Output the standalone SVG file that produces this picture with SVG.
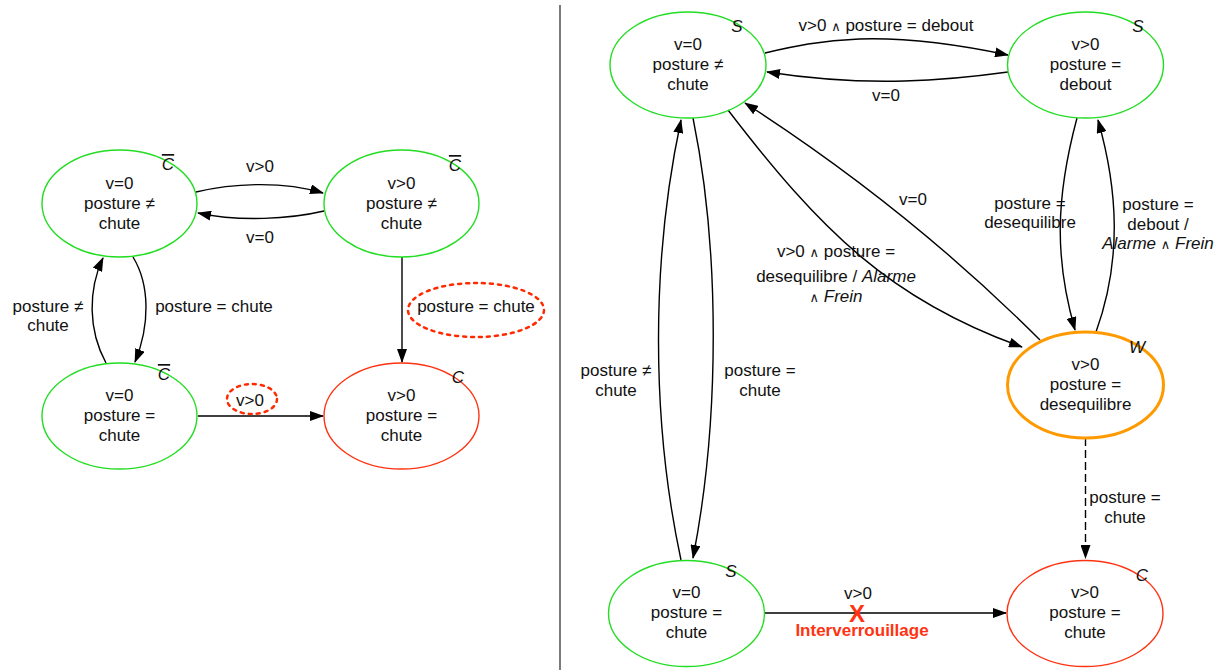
<svg xmlns="http://www.w3.org/2000/svg" width="1232" height="670" viewBox="0 0 1232 670">
<defs>
<marker id="arr" markerUnits="userSpaceOnUse" markerWidth="14" markerHeight="10" refX="13" refY="5" orient="auto" viewBox="0 0 14 10">
<path d="M0,0 L14,5 L0,10 z" fill="#000"/>
</marker>
</defs>
<style>
text { font-family: "Liberation Sans", Arial, sans-serif; font-size: 17px; fill: #111; text-anchor: middle; }
.i { font-style: italic; }
.ov { font-style: italic; text-decoration: overline; }
.nd { fill: none; stroke-width: 1.4; }
.g { stroke: #22dd22; }
.r { stroke: #ff3311; }
.o { stroke: #ff9900; stroke-width: 3; }
.e { fill: none; stroke: #000; stroke-width: 1.4; marker-end: url(#arr); }
.d { stroke-dasharray: 8 4; }
.hl { fill: none; stroke: #ff2a00; stroke-width: 2.5; stroke-dasharray: 3 5; stroke-linecap: round; }
.red { fill: #ff3311; font-weight: bold; }
.and { font-size: 13px; font-family: "DejaVu Sans", sans-serif; }
</style>

<line x1="560" y1="5" x2="560" y2="670" stroke="#222" stroke-width="1.2"/>

<g id="connectors">
  <!-- left -->
  <path class="e" d="M196,192 C230,184 280,180 323,193"/>
  <path class="e" d="M324,211 C290,219 240,222 198,213"/>
  <path class="e" d="M133,257 C150,285 150,325 135,362"/>
  <path class="e" d="M106,363 C88,330 88,290 103,258"/>
  <path class="e" d="M402,257 L402,362"/>
  <path class="e" d="M198,416 L323,416"/>
  <!-- right -->
  <path class="e" d="M765,53 C820,40 880,28 1008,55"/>
  <path class="e" d="M1008,72 C950,80 870,88 767,72"/>
  <path class="e" d="M693,118 C720,250 720,420 693,558"/>
  <path class="e" d="M681,560 C651,420 651,260 681,120"/>
  <path class="e" d="M728,110 C820,230 890,300 1022,347"/>
  <path class="e" d="M1040,340 C980,280 880,190 745,103"/>
  <path class="e" d="M1077,118 C1055,200 1055,260 1075,330"/>
  <path class="e" d="M1096,332 C1122,260 1118,190 1098,120"/>
  <path class="e d" d="M1085.5,438 L1085.5,558"/>
  <path class="e" d="M764.5,613 L1006,613"/>

  <!-- left labels -->
  <text x="260" y="172">v&gt;0</text>
  <text x="260" y="243">v=0</text>
  <text x="214" y="312">posture = chute</text>
  <text x="48" y="312">posture ≠</text>
  <text x="48" y="331">chute</text>
  <ellipse class="hl" cx="476" cy="310" rx="68" ry="27"/>
  <text x="476" y="312">posture = chute</text>
  <ellipse class="hl" cx="252" cy="399" rx="25" ry="15"/>
  <text x="250" y="406">v&gt;0</text>

  <!-- right labels -->
  <text x="886" y="31">v&gt;0 <tspan class="and">∧</tspan> posture = debout</text>
  <text x="886" y="101">v=0</text>
  <text x="616" y="376">posture ≠</text>
  <text x="616" y="396">chute</text>
  <text x="760" y="376">posture =</text>
  <text x="760" y="396">chute</text>
  <text x="836" y="257">v&gt;0 <tspan class="and">∧</tspan> posture =</text>
  <text x="836" y="282">desequilibre / <tspan class="i">Alarme</tspan></text>
  <text x="836" y="302"><tspan class="and">∧</tspan> <tspan class="i">Frein</tspan></text>
  <text x="913" y="205">v=0</text>
  <text x="1030" y="209">posture =</text>
  <text x="1030" y="228">desequilibre</text>
  <text x="1158" y="210">posture =</text>
  <text x="1158" y="230">debout /</text>
  <text x="1158" y="249"><tspan class="i">Alarme</tspan> <tspan class="and">∧</tspan> <tspan class="i">Frein</tspan></text>
  <text x="1125" y="503">posture =</text>
  <text x="1125" y="523">chute</text>
  <text x="858" y="599">v&gt;0</text>
  <text class="red" x="857" y="622" style="font-size:24px">X</text>
  <text class="red" x="862" y="636">Interverrouillage</text>
</g>

<g id="L_v0_nonchute">
  <ellipse class="nd g" cx="119.5" cy="203.5" rx="77.5" ry="53.5"/>
  <text x="119.5" y="189">v=0</text>
  <text x="119.5" y="209">posture ≠</text>
  <text x="119.5" y="229">chute</text>
  <text class="ov" x="168" y="170">C</text>
</g>
<g id="L_vpos_nonchute">
  <ellipse class="nd g" cx="401.5" cy="203.5" rx="77.5" ry="53.5"/>
  <text x="401.5" y="189">v&gt;0</text>
  <text x="401.5" y="209">posture ≠</text>
  <text x="401.5" y="229">chute</text>
  <text class="ov" x="455" y="171">C</text>
</g>
<g id="L_v0_chute">
  <ellipse class="nd g" cx="119.5" cy="416" rx="77.5" ry="53"/>
  <text x="119.5" y="401">v=0</text>
  <text x="119.5" y="421">posture =</text>
  <text x="119.5" y="441">chute</text>
  <text class="ov" x="164" y="380">C</text>
</g>
<g id="L_vpos_chute">
  <ellipse class="nd r" cx="401.5" cy="416" rx="77.5" ry="53"/>
  <text x="401.5" y="401">v&gt;0</text>
  <text x="401.5" y="421">posture =</text>
  <text x="401.5" y="441">chute</text>
  <text class="i" x="458" y="383">C</text>
</g>

<g id="R_v0_nonchute">
  <ellipse class="nd g" cx="688" cy="65" rx="78" ry="53"/>
  <text x="688" y="50">v=0</text>
  <text x="688" y="70">posture ≠</text>
  <text x="688" y="90">chute</text>
  <text class="i" x="737" y="32">S</text>
</g>
<g id="R_vpos_debout">
  <ellipse class="nd g" cx="1085.5" cy="65" rx="78" ry="53"/>
  <text x="1085.5" y="50">v&gt;0</text>
  <text x="1085.5" y="70">posture =</text>
  <text x="1085.5" y="90">debout</text>
  <text class="i" x="1138" y="32">S</text>
</g>
<g id="R_vpos_deseq">
  <ellipse class="nd o" cx="1085.5" cy="385" rx="78" ry="53"/>
  <text x="1085.5" y="370">v&gt;0</text>
  <text x="1085.5" y="390">posture =</text>
  <text x="1085.5" y="410">desequilibre</text>
  <text class="i" x="1137" y="353">W</text>
</g>
<g id="R_v0_chute">
  <ellipse class="nd g" cx="686.5" cy="613.5" rx="78" ry="53"/>
  <text x="686.5" y="598">v=0</text>
  <text x="686.5" y="618">posture =</text>
  <text x="686.5" y="638">chute</text>
  <text class="i" x="731" y="577">S</text>
</g>
<g id="R_vpos_chute">
  <ellipse class="nd r" cx="1085" cy="613.5" rx="78" ry="53"/>
  <text x="1085" y="598">v&gt;0</text>
  <text x="1085" y="618">posture =</text>
  <text x="1085" y="638">chute</text>
  <text class="i" x="1142" y="581">C</text>
</g>
</svg>
